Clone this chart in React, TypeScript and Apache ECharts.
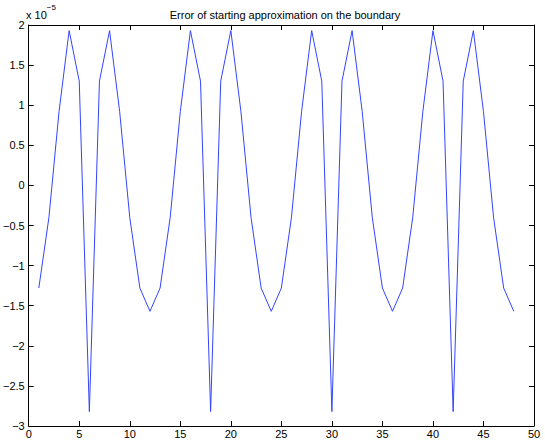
import React, { useEffect, useRef } from "react";
import * as echarts from "echarts";

// Error values in units of 1e-5, sampled at x = 1..48
const xValues = [
  1, 2, 3, 4, 5, 6, 7, 8, 9, 10, 11, 12,
  13, 14, 15, 16, 17, 18, 19, 20, 21, 22, 23, 24,
  25, 26, 27, 28, 29, 30, 31, 32, 33, 34, 35, 36,
  37, 38, 39, 40, 41, 42, 43, 44, 45, 46, 47, 48,
];
const errorScaled = [
  -1.28, -0.4, 0.92, 1.93, 1.3, -2.82, 1.3, 1.93, 0.92, -0.4, -1.28, -1.57,
  -1.28, -0.4, 0.92, 1.93, 1.3, -2.82, 1.3, 1.93, 0.92, -0.4, -1.28, -1.57,
  -1.28, -0.4, 0.92, 1.93, 1.3, -2.82, 1.3, 1.93, 0.92, -0.4, -1.28, -1.57,
  -1.28, -0.4, 0.92, 1.93, 1.3, -2.82, 1.3, 1.93, 0.92, -0.4, -1.28, -1.57,
];
const titleText = "Error of starting approximation on the boundary";

const FONT = "'Liberation Sans', Arial, Helvetica, sans-serif";
const fmt = (v: number) => String(v).replace("-", "\u2212");

export default function App() {
  const ref = useRef<HTMLDivElement>(null);
  useEffect(() => {
    if (!ref.current) return;
    const chart = echarts.init(ref.current, null, { renderer: "svg" });
    const axisLine = { show: true, onZero: false, lineStyle: { color: "#000", width: 1 } };
    const tick = { show: true, inside: true, length: 5, lineStyle: { color: "#000", width: 1 } };
    chart.setOption({
      animation: false,
      backgroundColor: "#fff",
      title: {
        text: titleText,
        left: 280,
        textAlign: "center",
        top: 4,
        textStyle: { fontFamily: FONT, fontSize: 11, fontWeight: "normal", color: "#000" },
      },
      graphic: [
        {
          type: "text",
          left: 26,
          top: 3,
          style: {
            text: "{a|x 10}{b|\u22125}",
            rich: {
              a: { fontFamily: FONT, fontSize: 11, fill: "#000", verticalAlign: "bottom", padding: [6, 0, 0, 0] },
              b: { fontFamily: FONT, fontSize: 8, fill: "#000", verticalAlign: "top" },
            },
          },
        },
      ],
      grid: { left: 26, right: 11, top: 25, bottom: 18, containLabel: false },
      xAxis: [
        {
          type: "value",
          min: 0,
          max: 50,
          interval: 5,
          position: "bottom",
          axisLine,
          axisTick: tick,
          splitLine: { show: false },
          axisLabel: { fontFamily: FONT, fontSize: 11, color: "#000", margin: 2, formatter: fmt },
        },
        {
          type: "value",
          min: 0,
          max: 50,
          interval: 5,
          position: "top",
          axisLine,
          axisTick: tick,
          splitLine: { show: false },
          axisLabel: { show: false },
        },
      ],
      yAxis: [
        {
          type: "value",
          min: -3,
          max: 2,
          interval: 0.5,
          position: "left",
          axisLine,
          axisTick: tick,
          splitLine: { show: false },
          axisLabel: { fontFamily: FONT, fontSize: 11, color: "#000", margin: 4, formatter: fmt },
        },
        {
          type: "value",
          min: -3,
          max: 2,
          interval: 0.5,
          position: "right",
          axisLine,
          axisTick: tick,
          splitLine: { show: false },
          axisLabel: { show: false },
        },
      ],
      series: [
        {
          type: "line",
          data: xValues.map((x, i) => [x, errorScaled[i]]),
          showSymbol: false,
          symbol: "none",
          lineStyle: { color: "#3344ff", width: 1 },
          xAxisIndex: 0,
          yAxisIndex: 0,
        },
      ],
    });
    return () => chart.dispose();
  }, []);
  return <div ref={ref} style={{ width: 545, height: 444, position: "absolute", left: 0, top: 0 }} />;
}
